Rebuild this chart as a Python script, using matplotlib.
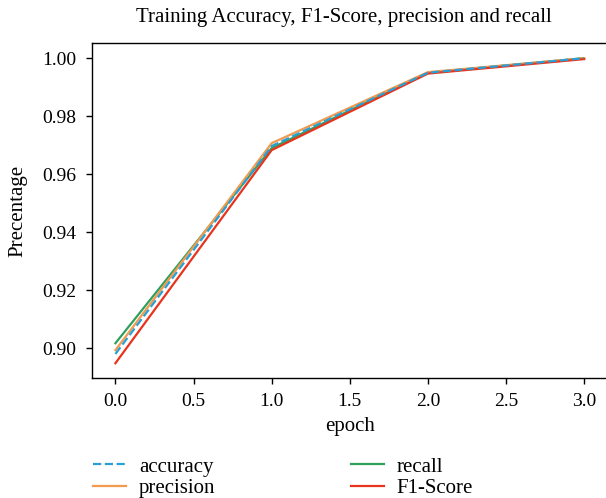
import matplotlib
matplotlib.use("Agg")
import matplotlib.pyplot as plt

epochs = [0, 1, 2, 3]
accuracy = [0.8980, 0.9697, 0.9950, 1.0000]
precision = [0.8993, 0.9707, 0.9952, 1.0000]
recall = [0.9017, 0.9690, 0.9950, 1.0000]
f1_score = [0.8948, 0.9683, 0.9947, 0.9997]

plt.rcParams['font.family'] = ['Liberation Serif', 'DejaVu Serif']

fig = plt.figure(figsize=(6.06, 4.98), dpi=100)
ax = fig.add_axes([0.1518, 0.24, 0.8507, 0.6737])

ax.plot(epochs, accuracy, color='#2a9fd6', linestyle='--', linewidth=1.6, label='accuracy', zorder=5)
ax.plot(epochs, precision, color='#f39a4e', linewidth=1.6, label='precision', zorder=3)
ax.plot(epochs, recall, color='#2fa05c', linewidth=1.6, label='recall', zorder=2)
ax.plot(epochs, f1_score, color='#e8341c', linewidth=1.6, label='F1-Score', zorder=4)

ax.set_title('Training Accuracy, F1-Score, precision and recall', fontsize=15,
             x=0.488, y=1.0745, pad=0, va='center')
ax.set_xlabel('epoch', fontsize=15, va='center')
ax.xaxis.set_label_coords(0.5, -0.1446)
ax.set_ylabel('Precentage', fontsize=15, va='center')
ax.yaxis.set_label_coords(-0.1430, 0.5)
ax.set_xticks([0.0, 0.5, 1.0, 1.5, 2.0, 2.5, 3.0])
ax.set_yticks([0.90, 0.92, 0.94, 0.96, 0.98, 1.00])
ax.tick_params(labelsize=14, length=4.5, width=1.0)
ax.tick_params(axis='y', pad=7)
ax.tick_params(axis='x', pad=6)
for s in ax.spines.values():
    s.set_linewidth(1.0)

ax.legend(loc='upper left', bbox_to_anchor=(93 / 606, 1 - 457 / 498),
          bbox_transform=fig.transFigure, ncol=2, frameon=False,
          fontsize=15, columnspacing=6.5, handlelength=1.6, handletextpad=0.6,
          labelspacing=0.1, borderpad=0, borderaxespad=0)

fig.savefig('out.png', dpi=100)
